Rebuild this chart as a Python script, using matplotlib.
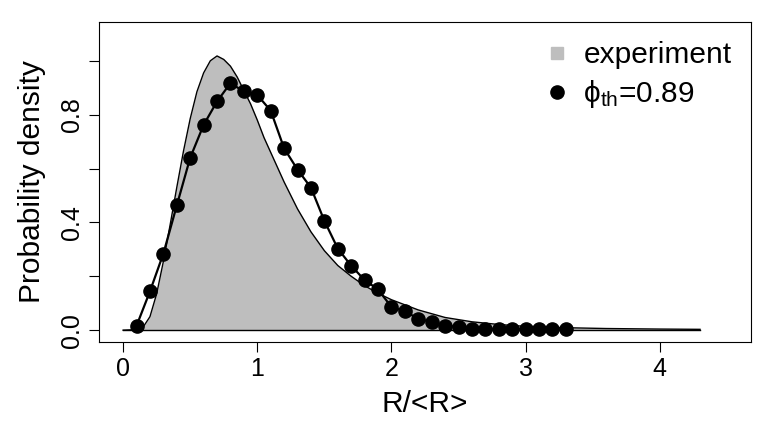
import numpy as np
import matplotlib
matplotlib.use("Agg")
import matplotlib.pyplot as plt
from matplotlib.lines import Line2D

plt.rcParams['font.family'] = ['Liberation Sans', 'DejaVu Sans']
plt.rcParams['mathtext.fontset'] = 'custom'
plt.rcParams['mathtext.rm'] = 'Liberation Sans'
plt.rcParams['mathtext.it'] = 'Liberation Sans:italic'

exp_x = [0.0, 0.1, 0.15, 0.2, 0.25, 0.3, 0.35, 0.4, 0.45, 0.5, 0.55, 0.6, 0.65,
         0.7, 0.75, 0.8, 0.85, 0.9, 0.95, 1.0, 1.05, 1.1, 1.2, 1.3, 1.4, 1.5,
         1.6, 1.7, 1.8, 1.9, 2.0, 2.2, 2.4, 2.6, 2.8, 3.0, 3.3, 3.6, 4.0, 4.3]
exp_y = [0.0, 0.002, 0.012, 0.05, 0.135, 0.255, 0.39, 0.53, 0.665, 0.785, 0.885, 0.955, 1.0,
         1.018, 1.005, 0.98, 0.94, 0.89, 0.84, 0.78, 0.715, 0.66, 0.55, 0.45, 0.365, 0.295,
         0.24, 0.2, 0.165, 0.137, 0.113, 0.075, 0.047, 0.031, 0.021, 0.014, 0.009, 0.006, 0.004, 0.003]

# model points, phi_th = 0.89
th_x = [0.1, 0.2, 0.3, 0.4, 0.5, 0.6, 0.7, 0.8, 0.9, 1.0, 1.1, 1.2, 1.3, 1.4, 1.5, 1.6, 1.7,
        1.8, 1.9, 2.0, 2.1, 2.2, 2.3, 2.4, 2.5, 2.6, 2.7, 2.8, 2.9, 3.0, 3.1, 3.2, 3.3]
th_y = [0.016, 0.144, 0.284, 0.463, 0.640, 0.762, 0.849, 0.917, 0.886, 0.873, 0.815, 0.675,
        0.596, 0.529, 0.406, 0.303, 0.239, 0.186, 0.151, 0.086, 0.070, 0.042, 0.030, 0.017,
        0.012, 0.006, 0.004, 0.005, 0.004, 0.004, 0.004, 0.004, 0.003]

x_ticks = [0, 1, 2, 3, 4]
y_ticks = [0.0, 0.2, 0.4, 0.6, 0.8, 1.0]
y_labels = ["0.0", "", "0.4", "", "0.8", ""]

fig = plt.figure(figsize=(7.72, 4.41), dpi=100)
ax = fig.add_axes([0.1282, 0.2245, 0.8446, 0.7256])

grey = '#bebebe'
ax.fill_between(exp_x, exp_y, 0, color=grey, lw=0)
ax.plot(exp_x, exp_y, color='black', lw=1.0)
ax.plot([exp_x[0], exp_x[-1]], [0, 0], color='black', lw=1.0)

ax.plot(th_x, th_y, color='black', lw=1.6, marker='o', markersize=9.5)

# R style 4% expansion of (0, 4.5) x (0, 1.1)
ax.set_xlim(-0.18, 4.68)
ax.set_ylim(-0.044, 1.144)

ax.set_xticks(x_ticks)
ax.set_xticklabels([str(t) for t in x_ticks])
ax.set_yticks(y_ticks)
ax.set_yticklabels(y_labels, rotation=90, va='center')
ax.tick_params(axis='both', direction='out', length=7, width=0.8, labelsize=18, pad=4)
for s in ax.spines.values():
    s.set_linewidth(0.8)

ax.set_xlabel("R/<R>", fontsize=21.5, labelpad=6)
ax.set_ylabel("Probability density", fontsize=21.5, labelpad=10)

handles = [Line2D([], [], marker='s', color=grey, ls='none', markersize=9),
           Line2D([], [], marker='o', color='black', ls='none', markersize=9.5)]
ax.legend(handles, ['experiment', '\u03d5$_{\\mathrm{th}}$=0.89'], loc='upper right',
          frameon=False, fontsize=21.5, handletextpad=0.4, labelspacing=0.3,
          borderaxespad=0.25, handlelength=1.0)

fig.savefig("out.png", dpi=100)
